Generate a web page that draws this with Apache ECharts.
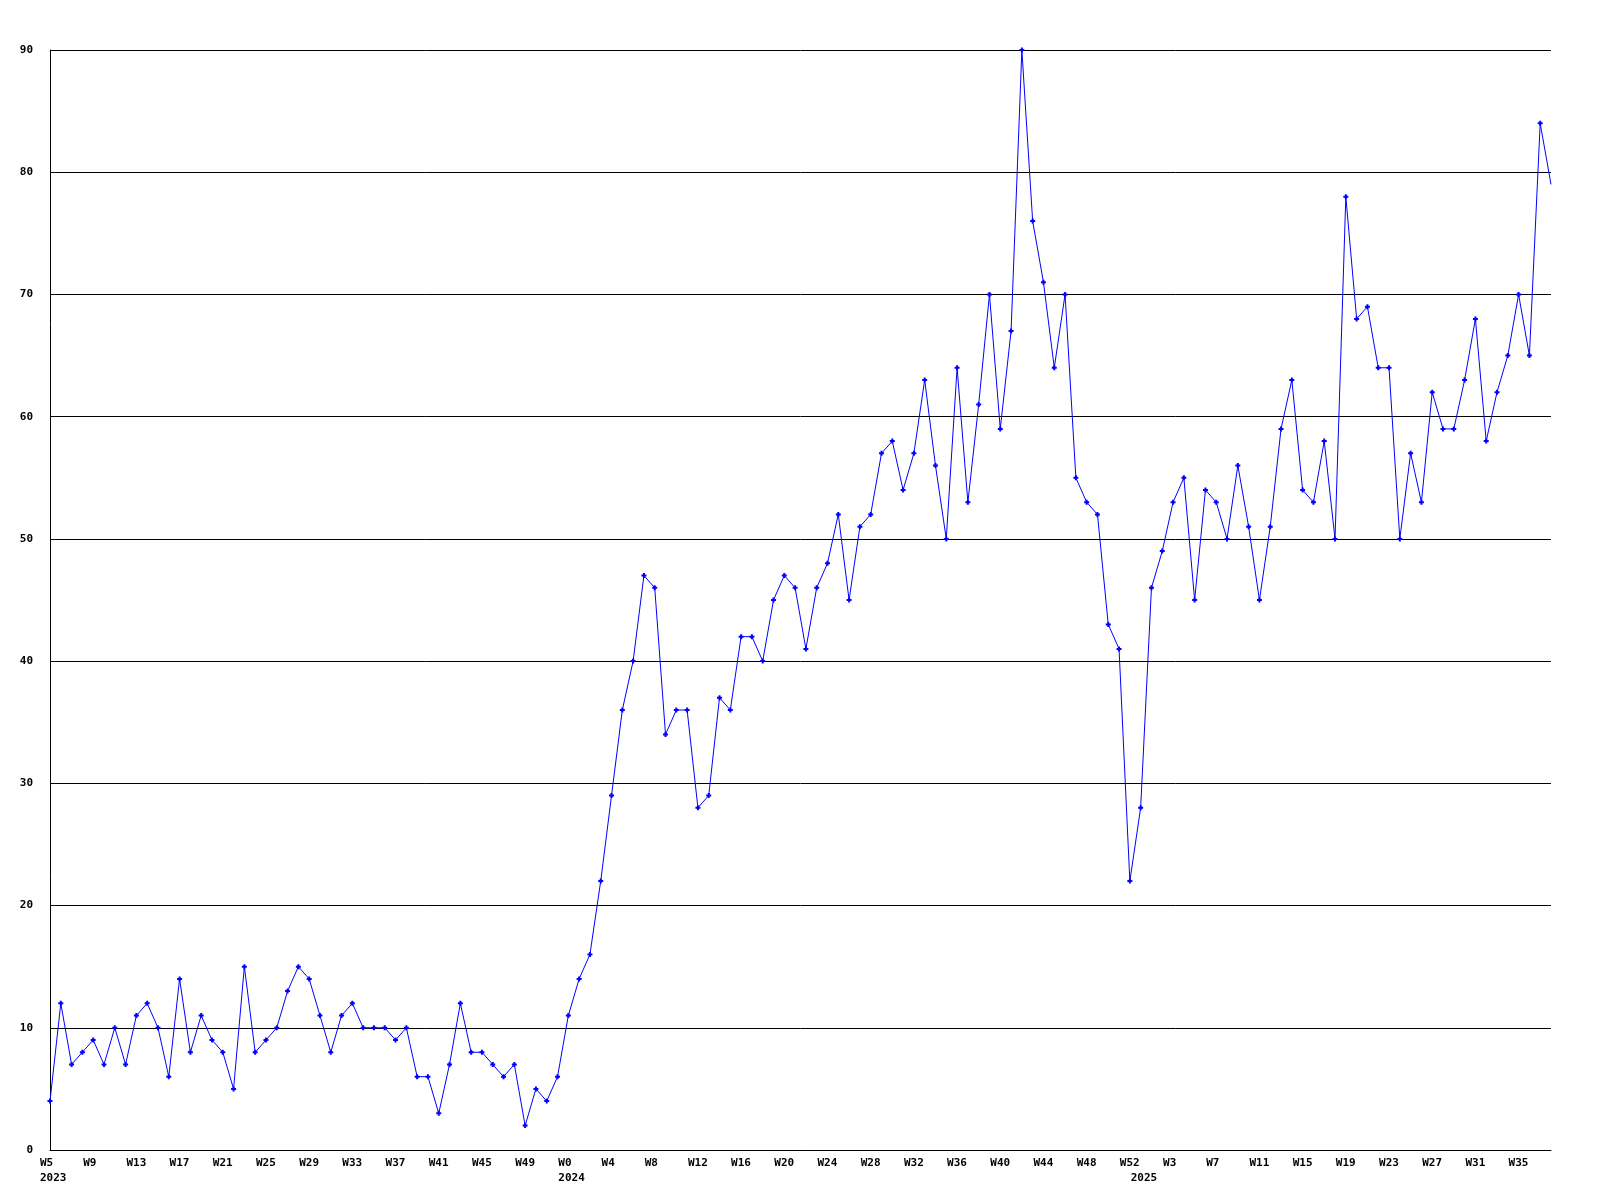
<!DOCTYPE html>
<html>
<head>
<meta charset="utf-8">
<script src="https://cdn.jsdelivr.net/npm/echarts@6/dist/echarts.min.js"></script>
<style>
html,body{margin:0;padding:0;background:#fff;}
#chart{width:1600px;height:1200px;}
</style>
</head>
<body>
<div id="chart"></div>
<script>
// Weekly values
const years = [2023, 2024, 2025];
const firstWeek = [5, 0, 0];
const lastWeek = [52, 52, 38];
const values2023 = [4,12,7,8,9,7,10,7,11,12,10,6,14,8,11,9,8,5,15,8,9,10,13,15,14,11,8,11,12,10,10,10,9,10,6,6,3,7,12,8,8,7,6,7,2,5,4,6];
const values2024 = [11,14,16,22,29,36,40,47,46,34,36,36,28,29,37,36,42,42,40,45,47,46,41,46,48,52,45,51,52,57,58,54,57,63,56,50,64,53,61,70,59,67,90,76,71,64,70,55,53,52,43,41,22];
const values2025 = [28,46,49,53,55,45,54,53,50,56,51,45,51,59,63,54,53,58,50,78,68,69,64,64,50,57,53,62,59,59,63,68,58,62,65,70,65,84,79];
const yTicks = [0,10,20,30,40,50,60,70,80,90];

const yearValues = [values2023, values2024, values2025];
const categories = [];
const yearStart = {};
const values = [];
years.forEach((y, k) => {
  yearStart[categories.length] = y;
  for (let w = firstWeek[k]; w <= lastWeek[k]; w++) categories.push(y + '|W' + w);
  yearValues[k].forEach(v => values.push(v));
});

const font = '"DejaVu Sans Mono", "Liberation Mono", monospace';
const chart = echarts.init(document.getElementById('chart'), null, {renderer: 'canvas'});
const plus = 'path://M1.5,0H3.5V1.5H5V3.5H3.5V5H1.5V3.5H0V1.5H1.5Z';

chart.setOption({
  animation: false,
  backgroundColor: '#ffffff',
  grid: [
    {left: 50, right: 49, top: 50, bottom: 50, containLabel: false},
    {left: 40, right: 59, top: 50, bottom: 50, containLabel: false}
  ],
  xAxis: [
    {
      type: 'category', gridIndex: 0, data: categories, boundaryGap: false,
      axisLine: {show: true, lineStyle: {color: '#000', width: 1}},
      axisTick: {show: false},
      axisLabel: {show: false},
      splitLine: {show: false}
    },
    {
      type: 'category', gridIndex: 1, data: categories, boundaryGap: false,
      axisLine: {show: false},
      axisTick: {show: false},
      splitLine: {show: false},
      axisLabel: {
        show: true,
        interval: (i) => i % 4 === 0 || yearStart[i] !== undefined,
        align: 'left',
        verticalAlign: 'top',
        margin: 6,
        lineHeight: 15,
        fontFamily: font,
        fontWeight: 'bold',
        fontSize: 11,
        color: '#000',
        formatter: (val, i) => {
          const wk = i % 4 === 0 ? val.split('|')[1] : '';
          const yr = yearStart[i] !== undefined ? '\n' + yearStart[i] : '';
          return wk + yr;
        }
      }
    }
  ],
  yAxis: [
    {
      type: 'value', gridIndex: 0, min: 0, max: 90, interval: 10,
      axisLine: {show: true, lineStyle: {color: '#000', width: 1}},
      axisTick: {show: false},
      splitLine: {show: true, lineStyle: {color: '#000', width: 1}},
      axisLabel: {
        margin: 17, fontFamily: font, fontWeight: 'bold', fontSize: 11, color: '#000',
        formatter: (v) => yTicks.includes(v) ? String(v) : ''
      }
    },
    {type: 'value', gridIndex: 1, min: 0, max: 90, show: false}
  ],
  series: [{
    type: 'line',
    xAxisIndex: 0, yAxisIndex: 0,
    data: values.map((v, i) => i === values.length - 1 ? {value: v, symbol: 'none'} : v),
    symbol: plus,
    symbolSize: 5,
    showAllSymbol: true,
    lineStyle: {color: '#0000ff', width: 1},
    itemStyle: {color: '#0000ff'},
    emphasis: {disabled: true},
    clip: true
  }]
});
</script>
</body>
</html>
